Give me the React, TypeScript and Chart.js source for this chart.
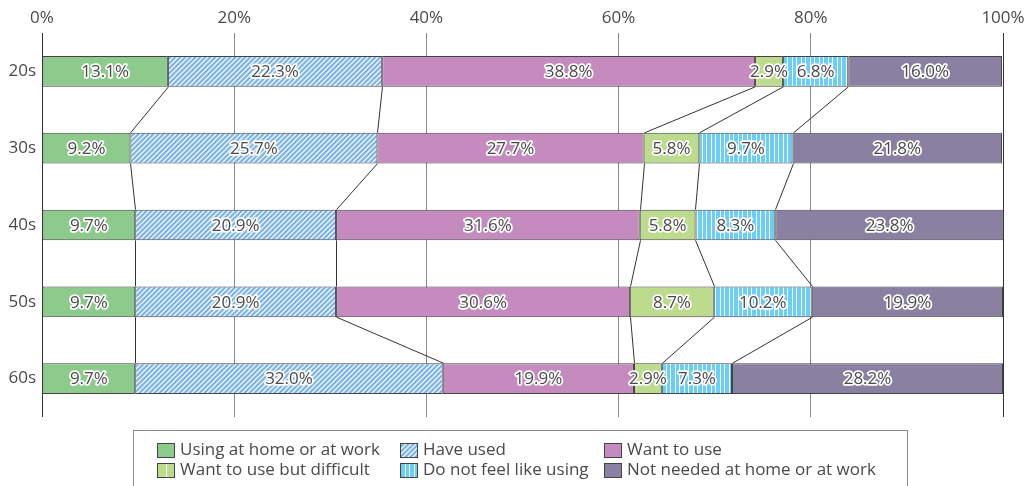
import React, { useEffect, useRef } from "react";
import { Chart, registerables } from "chart.js";

Chart.register(...registerables);

const categories = ["20s", "30s", "40s", "50s", "60s"];
const seriesNames = [
  "Using at home or at work",
  "Have used",
  "Want to use",
  "Want to use but difficult",
  "Do not feel like using",
  "Not needed at home or at work",
];
const usingValues = [13.1, 9.2, 9.7, 9.7, 9.7];
const haveUsedValues = [22.3, 25.7, 20.9, 20.9, 32.0];
const wantValues = [38.8, 27.7, 31.6, 30.6, 19.9];
const difficultValues = [2.9, 5.8, 5.8, 8.7, 2.9];
const notFeelValues = [6.8, 9.7, 8.3, 10.2, 7.3];
const notNeededValues = [16.0, 21.8, 23.8, 19.9, 28.2];
const tickValues = [0, 20, 40, 60, 80, 100];

const FONT = '"Open Sans", "Noto Sans", sans-serif';
const TEXT = "#4a4a4a";

function makePattern(kind: "hatch" | "stripes", base: string): CanvasPattern | string {
  const c = document.createElement("canvas");
  const size = kind === "hatch" ? 5 : 9;
  c.width = size;
  c.height = size;
  const g = c.getContext("2d");
  if (!g) return base;
  g.fillStyle = base;
  g.fillRect(0, 0, size, size);
  g.strokeStyle = "rgba(255,255,255,0.9)";
  if (kind === "hatch") {
    g.lineWidth = 1.3;
    g.beginPath();
    g.moveTo(-1, size + 1);
    g.lineTo(size + 1, -1);
    g.moveTo(-1, 1);
    g.lineTo(1, -1);
    g.moveTo(size - 1, size + 1);
    g.lineTo(size + 1, size - 1);
    g.stroke();
  } else {
    g.fillStyle = "rgba(255,255,255,0.95)";
    g.fillRect(0, 0, 1, size);
    g.fillRect(4, 0, 1, size);
  }
  return g.createPattern(c, "repeat") || base;
}

export default function App() {
  const ref = useRef<HTMLCanvasElement>(null);

  useEffect(() => {
    if (!ref.current) return;
    const colors: (string | CanvasPattern)[] = [
      "#8ccb8c",
      makePattern("hatch", "#7db4e4"),
      "#c68bbe",
      "#bcdb8c",
      makePattern("stripes", "#6ccdf5"),
      "#8a80a2",
    ];
    const allValues = [usingValues, haveUsedValues, wantValues, difficultValues, notFeelValues, notNeededValues];

    const connectors = {
      id: "connectors",
      afterDatasetsDraw(chart: any) {
        const ctx = chart.ctx;
        const xs = chart.scales.x;
        const n = categories.length;
        ctx.save();
        ctx.strokeStyle = "#333";
        ctx.lineWidth = 1;
        for (let k = 0; k < n - 1; k++) {
          const barA = chart.getDatasetMeta(0).data[k];
          const barB = chart.getDatasetMeta(0).data[k + 1];
          const yA = barA.y + barA.height / 2;
          const yB = barB.y - barB.height / 2;
          let cumA = 0;
          let cumB = 0;
          for (let s = 0; s < allValues.length - 1; s++) {
            cumA += allValues[s][k];
            cumB += allValues[s][k + 1];
            ctx.beginPath();
            ctx.moveTo(Math.round(xs.getPixelForValue(cumA)) + 0.5, yA);
            ctx.lineTo(Math.round(xs.getPixelForValue(cumB)) + 0.5, yB);
            ctx.stroke();
          }
        }
        ctx.restore();
      },
    };

    const labels = {
      id: "segLabels",
      afterDraw(chart: any) {
        const ctx = chart.ctx;
        ctx.save();
        ctx.font = `17px ${FONT}`;
        ctx.textAlign = "center";
        ctx.textBaseline = "middle";
        ctx.lineJoin = "round";
        chart.data.datasets.forEach((ds: any, di: number) => {
          const meta = chart.getDatasetMeta(di);
          meta.data.forEach((bar: any, i: number) => {
            const v = ds.data[i];
            const cx = (bar.x + bar.base) / 2;
            const txt = v.toFixed(1) + "%";
            ctx.strokeStyle = "#fff";
            ctx.lineWidth = 3.5;
            ctx.strokeText(txt, cx, bar.y + 1);
            ctx.fillStyle = TEXT;
            ctx.fillText(txt, cx, bar.y + 1);
          });
        });
        ctx.restore();
      },
    };

    const legend = {
      id: "customLegend",
      afterDraw(chart: any) {
        const ctx = chart.ctx;
        ctx.save();
        ctx.strokeStyle = "#8a8a8a";
        ctx.lineWidth = 1;
        ctx.strokeRect(133.5, 430.5, 774, 56);
        const colX = [157, 400, 604];
        const rowY = [450, 470];
        const order = [0, 1, 2, 3, 4, 5];
        ctx.font = `17px ${FONT}`;
        ctx.textBaseline = "middle";
        ctx.textAlign = "left";
        order.forEach((si, idx) => {
          const col = idx % 3;
          const row = Math.floor(idx / 3);
          const x = colX[col];
          const y = rowY[row];
          ctx.fillStyle = colors[si] as any;
          ctx.fillRect(x, y - 7, 18, 15);
          if (si === 3) {
            ctx.fillStyle = "#fff";
            ctx.fillRect(x + 9, y - 7, 1, 15);
          }
          ctx.strokeStyle = "#444";
          ctx.strokeRect(x + 0.5, y - 6.5, 17, 14);
          ctx.fillStyle = TEXT;
          ctx.fillText(seriesNames[si], x + 23, y);
        });
        ctx.restore();
      },
    };

    const chart = new Chart(ref.current, {
      type: "bar",
      data: {
        labels: categories,
        datasets: allValues.map((vals, i) => ({
          label: seriesNames[i],
          data: vals,
          backgroundColor: colors[i] as any,
          borderColor: "#444",
          borderWidth: 1,
          borderSkipped: false,
          barPercentage: 0.4,
          categoryPercentage: 1,
        })),
      },
      options: {
        indexAxis: "y",
        responsive: false,
        animation: false,
        events: [],
        layout: { padding: { left: 0, right: 27, top: 0, bottom: 69 } },
        plugins: { legend: { display: false }, tooltip: { enabled: false } },
        scales: {
          x: {
            position: "top",
            stacked: true,
            min: 0,
            max: 100,
            afterBuildTicks: (s: any) => {
              s.ticks = tickValues.map((v) => ({ value: v }));
            },
            afterFit: (s: any) => {
              s.height = 33;
            },
            ticks: {
              callback: (v: any) => v + "%",
              color: TEXT,
              font: { family: FONT, size: 17 },
              padding: 5,
              maxRotation: 0,
            },
            grid: {
              drawTicks: false,
              tickLength: 0,
              color: (c: any) => (c.tick && (c.tick.value === 0 || c.tick.value === 100) ? "#333" : "#8a8a8a"),
              lineWidth: 1,
            },
            border: { display: false },
          },
          y: {
            stacked: true,
            afterFit: (s: any) => {
              s.width = 42;
            },
            ticks: {
              color: TEXT,
              font: { family: FONT, size: 17 },
              padding: 6,
            },
            grid: { display: false, drawTicks: false },
            border: { display: false },
          },
        },
      },
      plugins: [connectors, labels, legend],
    });
    return () => chart.destroy();
  }, []);

  return (
    <div style={{ position: "absolute", left: 0, top: 0, width: 1030, height: 486, background: "#fff" }}>
      <canvas ref={ref} width={1030} height={486} />
    </div>
  );
}
